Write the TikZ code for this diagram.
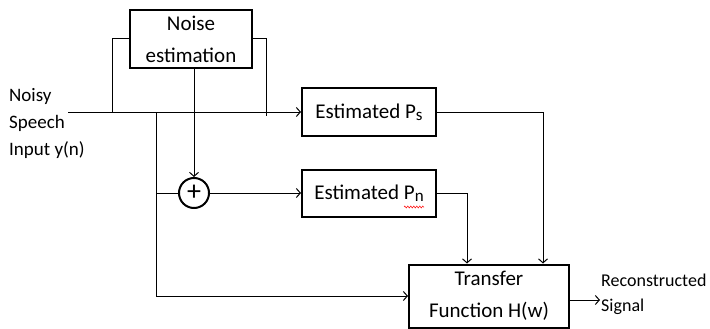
\documentclass[tikz,border=0pt]{standalone}
\usepackage{fontspec}
\setmainfont{Carlito}
\usetikzlibrary{decorations.pathmorphing,arrows.meta}
\begin{document}
\begin{tikzpicture}[x=1pt,y=-1pt,
  blk/.style={draw,line width=2pt,inner sep=0pt,align=center,font=\fontsize{21}{32}\selectfont},
  wire/.style={line width=1pt},
  arr/.style={wire,-{Straight Barb[length=4pt,width=9pt]}},
  lbl/.style={align=left,inner sep=0pt,font=\fontsize{19}{27}\selectfont}]
\useasboundingbox (0,0) rectangle (710,329);
\node[blk,minimum width=122pt,minimum height=58pt] (ne) at (191,39) {Noise\\estimation};
\node[blk,minimum width=134pt,minimum height=47pt] (ps) at (369,112) {Estimated P\raisebox{-2pt}{\fontsize{17}{17}\selectfont s}};
\node[blk,minimum width=134pt,minimum height=47pt] (pn) at (369,193) {Estimated P\raisebox{-2pt}{\fontsize{17}{17}\selectfont n}};
\node[blk,minimum width=160pt,minimum height=63pt] (tf) at (489,296) {Transfer\\Function H(w)};
\node[draw,circle,line width=2pt,minimum size=30pt,inner sep=0pt,font=\fontsize{28}{28}\selectfont] (sum) at (194,193) {+};
\node[lbl,anchor=north west] (in) at (9,88) {Noisy\\Speech\\Input y(n)};
\node[lbl,anchor=west,font=\fontsize{18}{25}\selectfont] (out) at (601,294) {Reconstructed\\Signal};
\coordinate (start) at (68,112);
\coordinate (b1) at (156,112);
\coordinate (b2) at (156,193);
\coordinate (fl) at (112,112);
\coordinate (fr) at (266,116);
\coordinate (o) at (600,300);
% main line
\draw[arr] (start) -- (ps.west);
% feedback around noise estimation
\draw[wire] (ne.west |- 0,39) -| (fl);
\draw[wire] (ne.east |- 0,39) -| (fr);
% noise estimate into adder
\draw[arr] (ne.south -| sum) -- (sum.north);
% branch down
\draw[wire] (b1) -- (b2) -- (sum.west);
\draw[arr] (b2) |- (tf.west);
\draw[arr] (sum.east) -- (pn.west);
% to transfer function
\draw[arr] (ps.east) -| ([xshift=54pt]tf.north);
\draw[arr] (pn.east) -| ([xshift=-22pt]tf.north);
\draw[arr] (tf.east |- o) -- (o);
% spell-check squiggle
\draw[red,line width=0.5pt,decorate,decoration={zigzag,amplitude=1pt,segment length=3pt}] (404,207) -- (424,207);
\end{tikzpicture}
\end{document}
